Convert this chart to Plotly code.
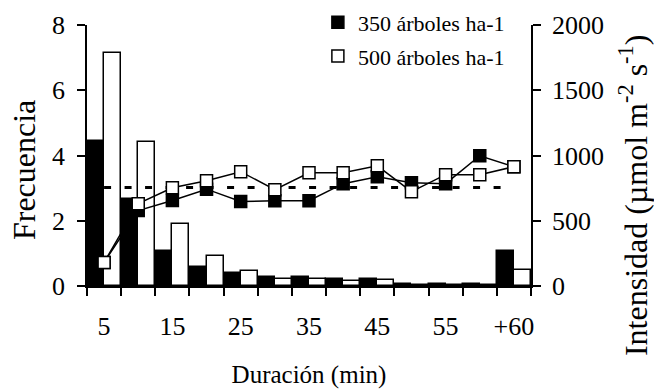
import plotly.graph_objects as go

# Duration classes of sunflecks (minutes)
categories = ["5", "10", "15", "20", "25", "30", "35", "40", "45", "50", "55", "60", "+60"]
tick_labels = ["5", " ", "15", " ", "25", " ", "35", " ", "45", " ", "55", " ", "+60"]

# Frequency of sunflecks per duration class
freq_350 = [4.45, 2.66, 1.08, 0.57, 0.41, 0.29, 0.29, 0.20, 0.20, 0.05, 0.05, 0.05, 1.07]
freq_500 = [7.15, 4.41, 1.90, 0.92, 0.46, 0.23, 0.23, 0.15, 0.17, 0.03, 0.03, 0.03, 0.50]

# Mean sunfleck intensity per duration class (µmol m-2 s-1)
intens_350 = [181, 578, 655, 742, 647, 654, 654, 784, 837, 792, 784, 998, 914]
intens_500 = [181, 631, 753, 807, 876, 738, 868, 868, 921, 723, 853, 853, 914]

# Reference intensity level (µmol m-2 s-1)
ref_level = 755

SERIF = "Liberation Serif"

fig = go.Figure()

fig.add_trace(go.Bar(
    x=categories, y=freq_350, name="350 árboles ha-1",
    marker=dict(color="black", line=dict(color="black", width=1.5)),
    legend="legend",
))
fig.add_trace(go.Bar(
    x=categories, y=freq_500, name="500 árboles ha-1",
    marker=dict(color="white", line=dict(color="black", width=1.5)),
    legend="legend2",
))

fig.add_trace(go.Scatter(
    x=[categories[0], categories[-1]], y=[ref_level, ref_level],
    mode="lines", yaxis="y2", showlegend=False,
    line=dict(color="black", width=3, dash="7px,13.5px"),
))
fig.add_trace(go.Scatter(
    x=categories, y=intens_350, mode="lines+markers", yaxis="y2", showlegend=False,
    line=dict(color="black", width=1.5),
    marker=dict(symbol="square", size=12, color="black", line=dict(color="black", width=1.5)),
))
fig.add_trace(go.Scatter(
    x=categories, y=intens_500, mode="lines+markers", yaxis="y2", showlegend=False,
    line=dict(color="black", width=1.5),
    marker=dict(symbol="square", size=12, color="white", line=dict(color="black", width=1.5)),
))

axis_common = dict(
    showline=True, linecolor="black", linewidth=1.5,
    ticks="outside", tickcolor="black", tickwidth=1.5, ticklen=8,
    showgrid=False, zeroline=False,
    tickfont=dict(family=SERIF, size=26, color="black"),
)

fig.update_layout(
    width=654, height=392,
    margin=dict(l=87, r=123, t=25, b=106, autoexpand=False),
    paper_bgcolor="white", plot_bgcolor="white",
    barmode="group", bargap=0, bargroupgap=0,
    font=dict(family=SERIF, color="black"),
    xaxis=dict(
        type="category", range=[-0.5, 12.5], tickson="boundaries",
        tickvals=categories, ticktext=tick_labels, tickangle=0,
        ticklabelstandoff=16,
        title=dict(text="Duración (min)", font=dict(family=SERIF, size=25), standoff=26),
        **axis_common,
    ),
    yaxis=dict(range=[0, 8], tickvals=[0, 2, 4, 6, 8], ticklabelstandoff=7, **axis_common),
    yaxis2=dict(
        range=[0, 2000], tickvals=[0, 500, 1000, 1500, 2000], ticklabelstandoff=6,
        overlaying="y", side="right", **axis_common,
    ),
    legend=dict(
        x=0.52, y=1.01, xanchor="left", yanchor="middle",
        font=dict(family=SERIF, size=22), bgcolor="rgba(0,0,0,0)",
        itemwidth=30,
    ),
    legend2=dict(
        x=0.52, y=0.88, xanchor="left", yanchor="middle",
        font=dict(family=SERIF, size=22), bgcolor="rgba(0,0,0,0)",
        itemwidth=30,
    ),
    annotations=[
        dict(text="Frecuencia", textangle=-90, xref="paper", yref="paper",
             x=-0.142, y=0.444, xanchor="center", yanchor="middle",
             showarrow=False, font=dict(family=SERIF, size=32)),
        dict(text="Intensidad (µmol m<sup>-2</sup> s<sup>-1</sup>)", textangle=-90,
             xref="paper", yref="paper", x=1.23, y=0.345,
             xanchor="center", yanchor="middle",
             showarrow=False, font=dict(family=SERIF, size=32)),
    ],
)

fig.write_html("out.html")
